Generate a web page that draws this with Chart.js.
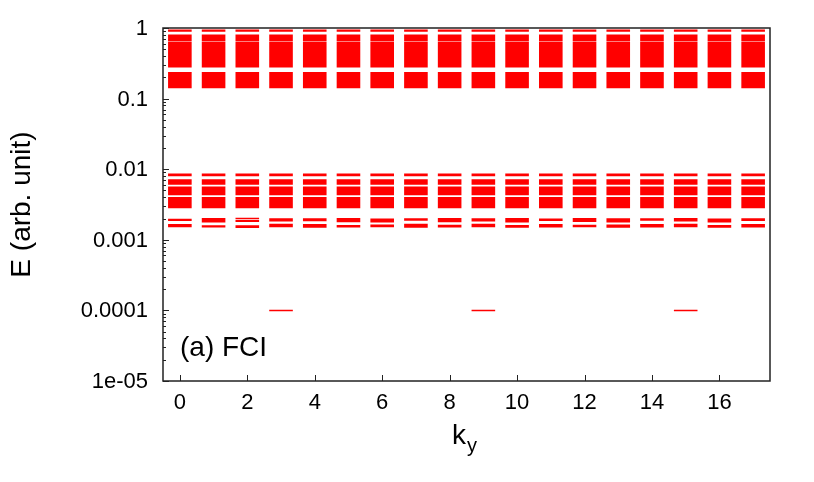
<!DOCTYPE html>
<html>
<head>
<meta charset="utf-8">
<script src="https://cdn.jsdelivr.net/npm/chart.js@4/dist/chart.umd.min.js"></script>
<style>
  body { margin: 0; background: #fff; }
  #wrap { width: 814px; height: 482px; }
</style>
</head>
<body>
<div id="wrap"><canvas id="chart" width="814" height="482"></canvas></div>
<script>
// momentum sectors
const kyValues = [0, 1, 2, 3, 4, 5, 6, 7, 8, 9, 10, 11, 12, 13, 14, 15, 16, 17];

// energy levels (same in every sector)
const topLines = [0.925, 0.91];
const upperBand = [0.78, 0.755, 0.73, 0.705, 0.68];
const mainBand = [0.62, 0.59, 0.56, 0.535, 0.51, 0.49, 0.465, 0.445, 0.42, 0.40, 0.38, 0.36, 0.345, 0.33, 0.315, 0.30, 0.285];
const lowerBand = [0.23, 0.22, 0.21, 0.20, 0.19, 0.182, 0.174, 0.166, 0.158, 0.151, 0.145];
const midBand = [0.0084, 0.0082, 0.0070, 0.0068, 0.0066, 0.0064, 0.0062, 0.0055, 0.0053, 0.0051, 0.0049, 0.0047, 0.0045, 0.0044,
                 0.0039, 0.0037, 0.0036, 0.0034, 0.0033, 0.0031, 0.0030, 0.0029];

// lowest band changes a little from sector to sector
const lowByKy = [
  [0.00193, 0.00189, 0.00163, 0.00158, 0.00154],
  [0.00198, 0.00189, 0.00181, 0.00157, 0.00153],
  [0.00200, 0.00186, 0.00183, 0.00156, 0.00151],
  [0.00197, 0.00191, 0.00187, 0.00165, 0.00160, 0.00155],
  [0.00196, 0.00188, 0.00163, 0.00158, 0.00152],
  [0.00199, 0.00190, 0.00182, 0.00158, 0.00153],
  [0.00195, 0.00188, 0.00180, 0.00161, 0.00155],
  [0.00197, 0.00191, 0.00164, 0.00157, 0.00152],
  [0.00199, 0.00189, 0.00182, 0.00159, 0.00153],
  [0.00196, 0.00192, 0.00186, 0.00164, 0.00160, 0.00154],
  [0.00198, 0.00188, 0.00181, 0.00158, 0.00152],
  [0.00195, 0.00189, 0.00163, 0.00157, 0.00153],
  [0.00199, 0.00190, 0.00183, 0.00159, 0.00154],
  [0.00197, 0.00188, 0.00181, 0.00160, 0.00152],
  [0.00196, 0.00191, 0.00163, 0.00158, 0.00153],
  [0.00198, 0.00192, 0.00187, 0.00165, 0.00159, 0.00155],
  [0.00195, 0.00188, 0.00181, 0.00158, 0.00152],
  [0.00197, 0.00190, 0.00163, 0.00157, 0.00153]
];

// ground states
const groundKy = [3, 9, 15];
const groundE = [0.0001, 0.0001, 0.0001];

// axis labels
const xTickValues = [0, 2, 4, 6, 8, 10, 12, 14, 16];
const yTickValues = [1, 0.1, 0.01, 0.001, 0.0001, 0.00001];
const yTickLabels = ['1', '0.1', '0.01', '0.001', '0.0001', '1e-05'];

const halfWidth = 0.35;
const red = '#ff0000';

// short horizontal segments split by null points
function segments(pairs) {
  const pts = [];
  pairs.forEach(([k, e]) => {
    pts.push({ x: k - halfWidth, y: e });
    pts.push({ x: k + halfWidth, y: e });
    pts.push({ x: k, y: null });
  });
  return pts;
}

function allKy(levels) {
  const pairs = [];
  kyValues.forEach(k => levels.forEach(e => pairs.push([k, e])));
  return pairs;
}

const lowPairs = [];
kyValues.forEach((k, i) => lowByKy[i].forEach(e => lowPairs.push([k, e])));

const groups = [
  { pairs: allKy(topLines), width: 1.8 },
  { pairs: allKy(upperBand.concat(mainBand, lowerBand)), width: 2.2 },
  { pairs: allKy(midBand), width: 2 },
  { pairs: lowPairs, width: 1.6 },
  { pairs: groundKy.map((k, i) => [k, groundE[i]]), width: 1.5 }
];

const datasets = groups.map(g => ({
  data: segments(g.pairs),
  showLine: true,
  spanGaps: false,
  borderColor: red,
  borderWidth: g.width,
  borderCapStyle: 'butt',
  pointRadius: 0,
  fill: false
}));

const fontFamily = '"Liberation Sans", Arial, Helvetica, sans-serif';

// frame, inward ticks and all text
const decorPlugin = {
  id: 'decor',
  afterDraw(chart) {
    const ctx = chart.ctx;
    const a = chart.chartArea;
    const xs = chart.scales.x;
    const ys = chart.scales.y;
    ctx.save();

    ctx.strokeStyle = '#222';
    ctx.lineWidth = 1.5;
    ctx.strokeRect(a.left, a.top, a.right - a.left, a.bottom - a.top);

    // y ticks
    ctx.lineWidth = 1;
    for (let p = -5; p <= 0; p++) {
      for (let m = 1; m <= 9; m++) {
        const v = m * Math.pow(10, p);
        if (v > 1.0001) break;
        const py = Math.round(ys.getPixelForValue(v)) + 0.5;
        const len = m === 1 ? 6 : 3;
        ctx.beginPath();
        ctx.moveTo(a.left, py);
        ctx.lineTo(a.left + len, py);
        ctx.stroke();
      }
    }
    // x ticks
    xTickValues.forEach(v => {
      const px = Math.round(xs.getPixelForValue(v)) + 0.5;
      ctx.beginPath();
      ctx.moveTo(px, a.bottom);
      ctx.lineTo(px, a.bottom - 6);
      ctx.stroke();
    });

    ctx.fillStyle = '#000';
    ctx.font = '22px ' + fontFamily;
    ctx.textAlign = 'right';
    ctx.textBaseline = 'middle';
    yTickValues.forEach((v, i) => {
      ctx.fillText(yTickLabels[i], a.left - 15, ys.getPixelForValue(v) + 1);
    });
    ctx.textAlign = 'center';
    xTickValues.forEach(v => {
      ctx.fillText(String(v), xs.getPixelForValue(v), a.bottom + 22);
    });

    // y title
    ctx.save();
    ctx.translate(22, (a.top + a.bottom) / 2);
    ctx.rotate(-Math.PI / 2);
    ctx.font = '28px ' + fontFamily;
    ctx.textAlign = 'center';
    ctx.textBaseline = 'middle';
    ctx.fillText('E (arb. unit)', 0, 0);
    ctx.restore();

    // x title with subscript
    ctx.textAlign = 'left';
    ctx.textBaseline = 'alphabetic';
    ctx.font = '28px ' + fontFamily;
    ctx.fillText('k', 452, 444);
    ctx.font = '20px ' + fontFamily;
    ctx.fillText('y', 467, 452);

    // panel label
    ctx.font = '28px ' + fontFamily;
    ctx.fillText('(a) FCI', 180, 356);

    ctx.restore();
  }
};

new Chart(document.getElementById('chart'), {
  type: 'scatter',
  data: { datasets: datasets },
  options: {
    responsive: false,
    animation: false,
    devicePixelRatio: 1,
    layout: { padding: { top: 28, right: 44, left: 0, bottom: 0 } },
    plugins: { legend: { display: false }, tooltip: { enabled: false } },
    scales: {
      x: {
        type: 'linear',
        min: -0.5,
        max: 17.5,
        grid: { display: false },
        border: { display: false },
        ticks: { display: false },
        afterFit(scale) { scale.height = 101; }
      },
      y: {
        type: 'logarithmic',
        min: 0.00001,
        max: 1,
        grid: { display: false },
        border: { display: false },
        ticks: { display: false },
        afterFit(scale) { scale.width = 163; }
      }
    }
  },
  plugins: [decorPlugin]
});
</script>
</body>
</html>
